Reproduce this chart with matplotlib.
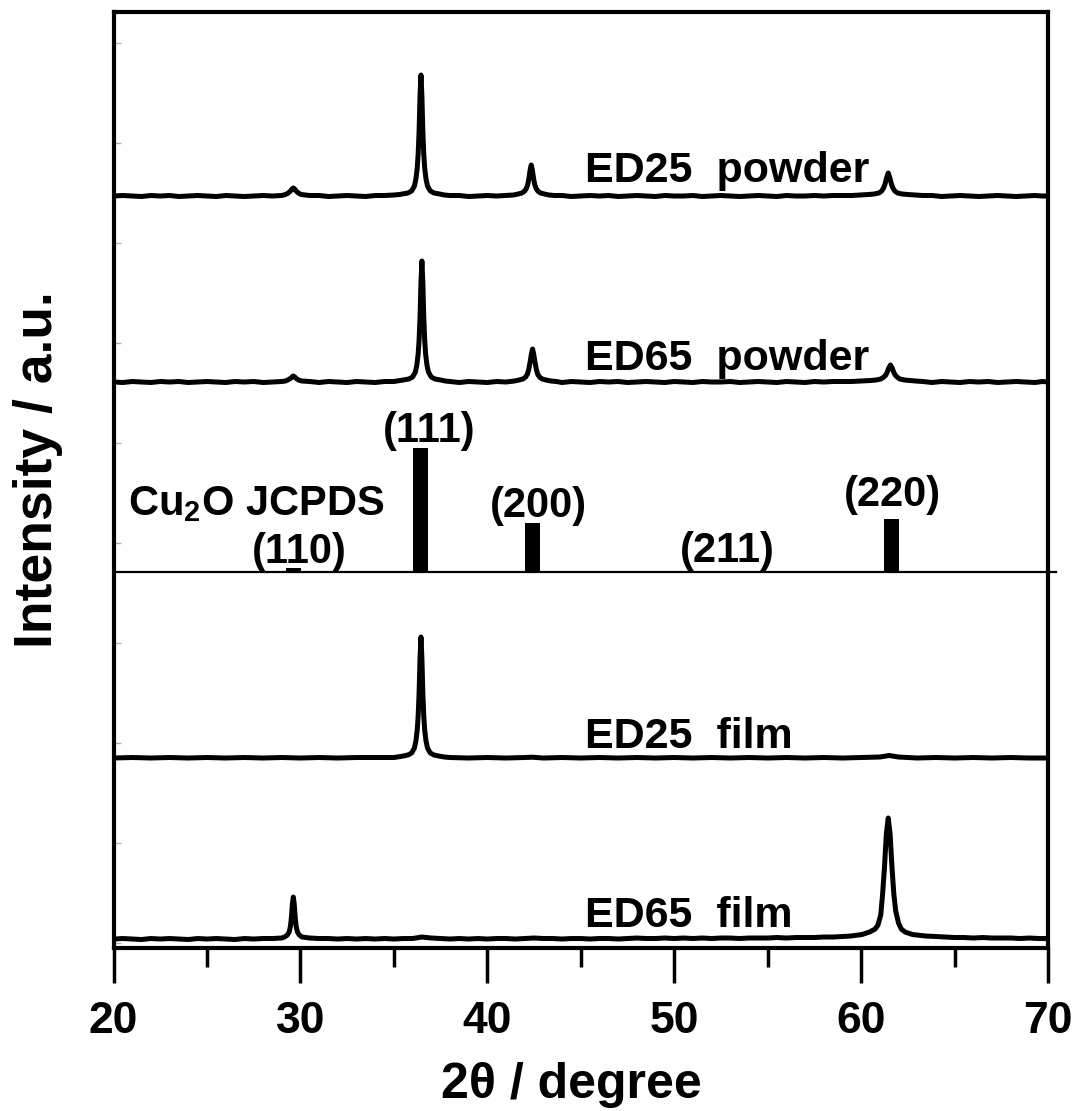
import matplotlib
matplotlib.use('Agg')
import matplotlib.pyplot as plt
from matplotlib.ticker import MultipleLocator

plt.rcParams['font.family'] = ['Liberation Sans', 'DejaVu Sans']
plt.rcParams['font.weight'] = 'bold'
plt.rcParams['mathtext.fontset'] = 'custom'
plt.rcParams['mathtext.rm'] = 'Liberation Sans:bold'
plt.rcParams['mathtext.bf'] = 'Liberation Sans:bold'
plt.rcParams['mathtext.it'] = 'Liberation Sans:bold'
plt.rcParams['mathtext.default'] = 'bf'

# ---------------- data (2theta, relative intensity) ----------------
ed25_powder = [
    (20.0, 0), (20.5, 0.5), (21.0, 0), (21.5, -0.5), (22.0, 0.5), (22.5, 0), (23.0, 0.5), (23.5, -0.5), (24.0, 0),
    (24.5, 0.5), (25.0, 0), (25.5, -0.5), (26.0, 0.5), (26.5, 0), (27.0, -0.5), (27.5, 0), (28.0, 0.5), (28.5, 0), (29.0, 0.5),
    (29.2, 1.5), (29.35, 3), (29.47, 5), (29.55, 7), (29.62, 8), (29.69, 7), (29.77, 5), (29.89, 3), (30.04, 1.5),
    (30.5, 0.5), (31.0, 0.5), (31.5, -0.5), (32.0, 0), (32.5, 0.5), (33.0, 0), (33.5, -0.5), (34.0, 0.5), (34.5, 0.5), (35.0, 1), (35.3, 1.5),
    (35.45, 2), (35.75, 3), (35.95, 5), (36.1, 10), (36.18, 17), (36.25, 28), (36.3, 42), (36.35, 65), (36.4, 100), (36.45, 121),
    (36.5, 100), (36.55, 65), (36.6, 42), (36.65, 28), (36.72, 17), (36.8, 10), (36.95, 5), (37.15, 3), (37.45, 2),
    (37.7, 1), (38.0, 0.5), (38.5, 0.5), (39.0, -0.5), (39.5, 0), (40.0, 0.5), (40.5, 0), (41.0, 0.5), (41.4, 1),
    (41.65, 2), (41.85, 3), (42.0, 5), (42.1, 8), (42.17, 12), (42.23, 18), (42.29, 26), (42.35, 31), (42.41, 26), (42.47, 18),
    (42.53, 12), (42.6, 8), (42.7, 5), (42.85, 3), (43.05, 2), (43.3, 1),
    (43.6, 0.5), (44.0, 0.5), (44.5, -0.5), (45.0, 0), (45.5, 0.5), (46.0, 0), (46.5, 0.5), (47.0, -0.5), (47.5, 0), (48.0, 0.5),
    (48.5, 0), (49.0, -0.5), (49.5, 0.5), (50.0, 0), (50.5, 0), (51.0, 0.5), (51.5, -0.5), (52.0, 0), (52.5, 0.5), (53.0, 0),
    (53.5, -0.5), (54.0, 0), (54.5, 0.5), (55.0, 0), (55.5, -0.5), (56.0, 0.5), (56.5, 0), (57.0, 0), (57.5, 0.5), (58.0, 0),
    (58.5, 0.5), (59.0, 0.5), (59.5, 0.5), (60.0, 1), (60.4, 1.5),
    (60.7, 2), (60.95, 3), (61.1, 5), (61.2, 8), (61.28, 12), (61.36, 18), (61.45, 23), (61.54, 18), (61.62, 12),
    (61.7, 8), (61.8, 5), (61.95, 3), (62.2, 2), (62.5, 1.5),
    (62.9, 1), (63.3, 0.5), (63.8, 0.5), (64.3, -0.5), (64.8, 0), (65.3, 0.5), (65.8, 0), (66.3, -0.5), (66.8, 0), (67.3, 0.5),
    (67.8, 0), (68.3, -0.5), (68.8, 0), (69.3, 0.5), (69.7, 0), (70.0, 0),
]

ed65_powder = [
    (20.0, 0), (20.5, -0.5), (21.0, 0.5), (21.5, 0), (22.0, -0.5), (22.5, 0.5), (23.0, 0), (23.5, 0.5), (24.0, -0.5), (24.5, 0),
    (25.0, 0.5), (25.5, 0), (26.0, -0.5), (26.5, 0.5), (27.0, 0), (27.5, 0.5), (28.0, -0.5), (28.5, 0), (29.0, 0.5),
    (29.2, 1), (29.37, 2.5), (29.5, 4), (29.57, 5.5), (29.63, 6), (29.7, 5), (29.78, 3.5), (29.9, 2), (30.07, 1),
    (30.5, 0.5), (31.0, -0.5), (31.5, 0.5), (32.0, 0), (32.5, -0.5), (33.0, 0.5), (33.5, 0), (34.0, -0.5), (34.5, 0.5), (35.0, 0.5), (35.35, 1.5),
    (35.5, 2), (35.8, 3), (36.0, 5), (36.15, 10), (36.23, 17), (36.3, 28), (36.35, 42), (36.4, 65), (36.45, 100), (36.5, 121),
    (36.55, 100), (36.6, 65), (36.65, 42), (36.7, 28), (36.77, 17), (36.85, 10), (37.0, 5), (37.2, 3), (37.5, 2),
    (37.75, 1), (38.0, 0.5), (38.5, -0.5), (39.0, 0.5), (39.5, 0), (40.0, -0.5), (40.5, 0.5), (41.0, 0), (41.45, 1),
    (41.7, 2), (41.9, 3), (42.05, 5), (42.15, 8), (42.22, 13), (42.29, 20), (42.36, 28), (42.42, 33), (42.48, 28), (42.55, 20),
    (42.62, 13), (42.69, 8), (42.79, 5), (42.94, 3), (43.14, 2), (43.4, 1),
    (43.7, 0.5), (44.0, -0.5), (44.5, 0.5), (45.0, 0), (45.5, -0.5), (46.0, 0.5), (46.5, 0), (47.0, 0.5), (47.5, -0.5), (48.0, 0),
    (48.5, 0.5), (49.0, 0), (49.5, -0.5), (50.0, 0.5), (50.5, 0), (51.0, -0.5), (51.5, 0.5), (52.0, 0), (52.5, 0), (53.0, 0.5),
    (53.5, -0.5), (54.0, 0), (54.5, 0.5), (55.0, 0), (55.5, -0.5), (56.0, 0.5), (56.5, 0), (57.0, -0.5), (57.5, 0.5), (58.0, 0),
    (58.5, 0.5), (59.0, 0.5), (59.5, 0.5), (60.0, 1), (60.5, 1.5),
    (60.8, 2), (61.05, 3), (61.22, 5), (61.32, 7), (61.4, 10), (61.48, 14), (61.57, 17), (61.66, 14), (61.74, 10),
    (61.82, 7), (61.92, 5), (62.07, 3), (62.32, 2), (62.6, 1.5),
    (62.9, 1), (63.3, 0.5), (63.8, -0.5), (64.3, 0.5), (64.8, 0), (65.3, -0.5), (65.8, 0.5), (66.3, 0), (66.8, 0.5), (67.3, -0.5),
    (67.8, 0), (68.3, 0.5), (68.8, 0), (69.3, -0.5), (69.7, 0.5), (70.0, 0),
]

ed25_film = [
    (20.0, 0), (21.0, 0.5), (22.0, 0), (23.0, 0.5), (24.0, 0), (25.0, 0.5), (26.0, 0), (27.0, 0.5), (28.0, 0),
    (29.0, 0.5), (30.0, 0), (31.0, 0.5), (32.0, 0), (33.0, 0.5), (34.0, 0.5), (35.0, 0.5), (35.35, 1.5),
    (35.5, 2), (35.75, 3), (35.95, 5), (36.1, 10), (36.18, 17), (36.25, 28), (36.3, 42), (36.35, 65), (36.4, 100), (36.45, 121),
    (36.5, 100), (36.55, 65), (36.6, 42), (36.65, 28), (36.72, 17), (36.8, 10), (36.95, 5), (37.15, 3), (37.4, 2),
    (37.7, 1), (38.0, 0.5), (39.0, 0), (40.0, 0.5), (41.0, 0), (42.0, 0.5), (42.4, 0.8), (43.0, 0), (44.0, 0.5), (45.0, 0),
    (46.0, 0.5), (47.0, 0), (48.0, 0.5), (49.0, 0), (50.0, 0.5), (51.0, 0), (52.0, 0.5), (53.0, 0), (54.0, 0.5),
    (55.0, 0), (56.0, 0.5), (57.0, 0), (58.0, 0.5), (59.0, 0), (60.0, 0.5), (61.0, 1), (61.5, 2.5), (62.0, 1),
    (63.0, 0), (64.0, 0.5), (65.0, 0), (66.0, 0.5), (67.0, 0), (68.0, 0.5), (69.0, 0), (70.0, 0),
]

ed65_film = [
    (20.0, 0), (20.5, 0.5), (21.0, 0), (21.5, -0.5), (22.0, 0.5), (22.5, 0), (23.0, 0.5), (23.5, 0), (24.0, -0.5),
    (24.5, 0.5), (25.0, 0), (25.5, 0.5), (26.0, 0), (26.5, -0.5), (27.0, 0.5), (27.5, 0), (28.0, 0.5), (28.5, 0.5), (29.0, 1),
    (29.15, 2), (29.3, 4), (29.4, 7), (29.47, 13), (29.52, 22), (29.57, 35), (29.62, 42), (29.67, 35), (29.72, 22),
    (29.77, 13), (29.84, 7), (29.94, 4), (30.09, 2),
    (30.5, 1), (31.0, 0.5), (31.5, 0.5), (32.0, 0), (32.5, 0.5), (33.0, 0), (33.5, 0.5), (34.0, 0), (34.5, 0.5),
    (35.0, 0), (35.5, 0.5), (36.0, 0.5), (36.5, 2), (37.0, 1), (37.5, 0.5), (38.0, 0), (38.5, 0.5), (39.0, 0),
    (39.5, 0.5), (40.0, 0), (40.5, 0.5), (41.0, 0.5), (41.5, 0), (42.0, 0.5), (42.5, 1), (43.0, 0.5), (43.5, 0.5),
    (44.0, 0), (44.5, 0.5), (45.0, 0.5), (45.5, 0), (46.0, 0.5), (46.5, 0.5), (47.0, 0), (47.5, 0.5), (48.0, 1),
    (48.5, 0.5), (49.0, 0.5), (49.5, 1), (50.0, 0.5), (50.5, 1), (51.0, 0.5), (51.5, 1), (52.0, 0.5), (52.5, 1),
    (53.0, 1), (53.5, 0.5), (54.0, 1), (54.5, 1), (55.0, 1), (55.5, 1.5), (56.0, 1), (56.5, 1.5), (57.0, 1.5),
    (57.5, 1.5), (58.0, 2), (58.5, 2), (59.0, 2.5), (59.45, 3), (60.05, 4.5), (60.45, 7), (60.75, 10), (60.9, 14),
    (61.05, 24), (61.15, 45), (61.25, 72), (61.35, 105), (61.45, 121), (61.55, 105), (61.65, 72), (61.75, 45),
    (61.85, 28), (62.0, 16), (62.15, 10), (62.35, 7), (62.75, 4.5), (63.45, 3), (64.0, 2.5), (64.5, 2), (65.0, 1.5),
    (65.5, 1.5), (66.0, 1), (66.5, 1.5), (67.0, 1), (67.5, 1), (68.0, 1), (68.5, 0.5), (69.0, 1), (69.5, 0.5), (70.0, 0.5),
]

# stacking offsets of each pattern (same units as intensity)
offsets = {'ED25  powder': 752, 'ED65  powder': 566, 'ED25  film': 190, 'ED65  film': 9}
patterns = {'ED25  powder': ed25_powder, 'ED65  powder': ed65_powder,
            'ED25  film': ed25_film, 'ED65  film': ed65_film}

# Cu2O JCPDS reference lines
jcpds_offset = 376
jcpds_pos = [29.62, 36.45, 42.42, 52.6, 61.6]
jcpds_int = [4, 124, 49, 1.5, 53]
jcpds_hkl = ['(110)', '(111)', '(200)', '(211)', '(220)']

x_ticks = [20, 30, 40, 50, 60, 70]
x_min, x_max = 20, 70
y_min, y_max = 0, 936

# ---------------- plotting ----------------
fig = plt.figure(figsize=(10.82, 11.11), dpi=100)
ax = fig.add_axes([0.1049, 0.1467, 0.8637, 0.8425])

for name, data in patterns.items():
    xs = [p[0] for p in data]
    ys = [p[1] + offsets[name] for p in data]
    ax.plot(xs, ys, color='black', lw=3.6, solid_joinstyle='round', solid_capstyle='butt')

ax.bar(jcpds_pos, jcpds_int, width=0.8, bottom=jcpds_offset, color='black', linewidth=0)
ax.plot([x_min, x_max + 0.4], [jcpds_offset, jcpds_offset], color='black', lw=1.6, clip_on=False)

ax.set_xlim(x_min, x_max)
ax.set_ylim(y_min, y_max)

# text labels (data coordinates)
fs_sample = 31
label_xy = {'ED25  powder': (45.23, 766), 'ED65  powder': (45.23, 578),
            'ED25  film': (45.23, 200), 'ED65  film': (45.23, 21)}
for name, (tx, ty) in label_xy.items():
    ax.text(tx, ty, name, fontsize=fs_sample, fontweight='bold', va='baseline', ha='left')
ax.text(20.78, 433, r'Cu$_2$O JCPDS', fontsize=30, fontweight='bold', va='baseline', ha='left')

hkl_xy = {'(110)': (29.92, 385), '(111)': (36.88, 506), '(200)': (42.71, 431),
          '(211)': (52.82, 386), '(220)': (61.70, 442)}
for lab in jcpds_hkl:
    hx, hy = hkl_xy[lab]
    ax.text(hx, hy, lab, fontsize=30, fontweight='bold', va='baseline', ha='center')

# axes styling
for sp in ax.spines.values():
    sp.set_linewidth(3.0)

ax.set_xticks(x_ticks)
ax.set_xticklabels([str(t) for t in x_ticks])
ax.xaxis.set_minor_locator(MultipleLocator(5))
ax.tick_params(axis='x', which='major', direction='out', length=25, width=2.5, pad=13, labelsize=32)
ax.tick_params(axis='x', which='minor', direction='out', length=14, width=2.5)
ax.set_yticks([5 + 100 * k for k in range(10)])
ax.set_yticklabels([])
ax.tick_params(axis='y', which='major', direction='in', length=5, width=1, color='#b0b0b0', right=False)
for lab in ax.get_xticklabels():
    lab.set_fontweight('bold')

fig.text(571 / 1082, 1 - 1098 / 1111, '2θ / degree', fontsize=36, fontweight='bold',
         ha='center', va='baseline')
fig.text(38 / 1082, 1 - 470 / 1111, 'Intensity / a.u.', fontsize=38.5, fontweight='bold',
         ha='center', va='center', rotation=90)

fig.savefig('out.png', dpi=100)
